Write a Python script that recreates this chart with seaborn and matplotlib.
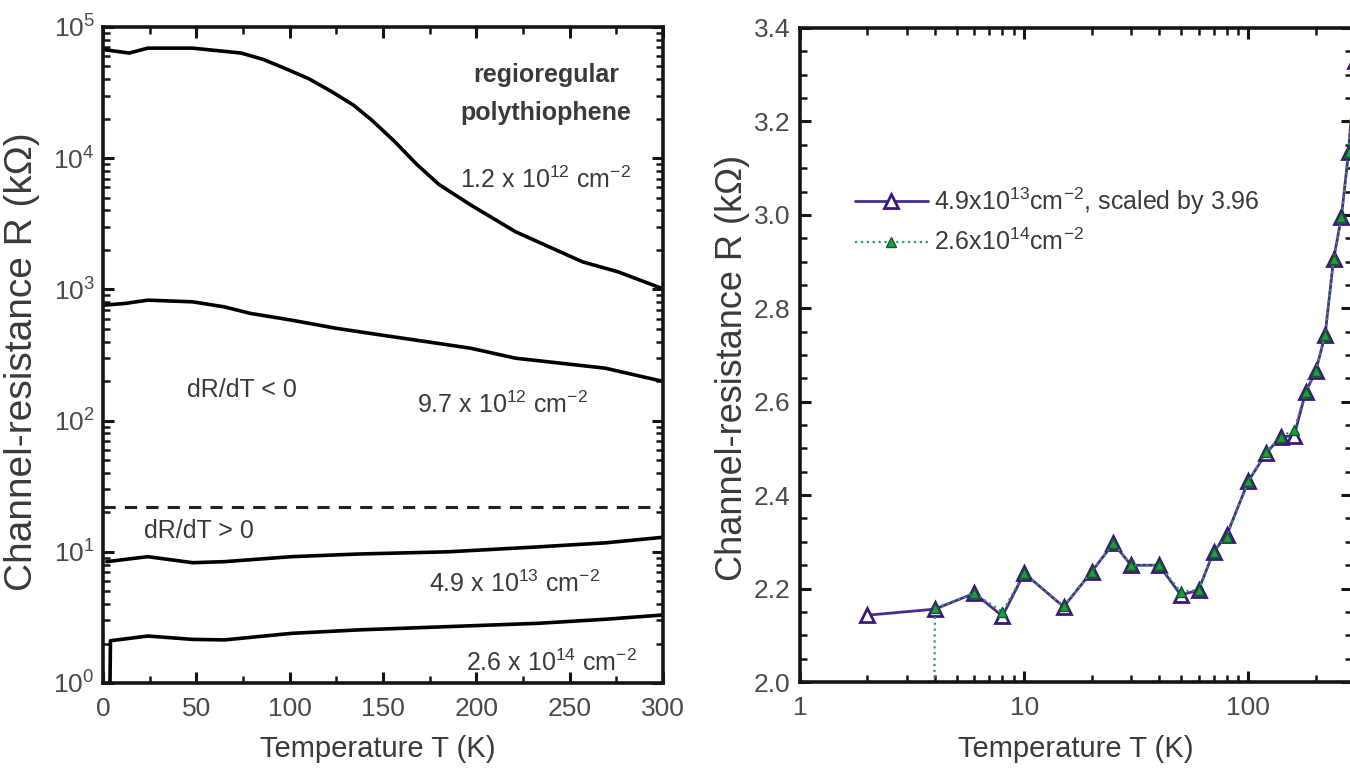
import numpy as np
import pandas as pd
import matplotlib
matplotlib.use("Agg")
import matplotlib.pyplot as plt
import matplotlib.ticker as mticker
import seaborn as sns

# ---------------- data: left panel (R in kOhm vs T in K) ----------------
T_12e12 = [1, 14, 24, 48, 74, 86, 98, 110, 122, 134, 144, 156, 168, 180, 197, 221, 257, 276, 300]
R_12e12 = [67100, 63300, 69000, 69000, 63300, 56500, 48000, 40500, 32500, 25500, 19500,
           13500, 9000, 6300, 4400, 2750, 1620, 1360, 1010]

T_97e12 = [1, 12, 24, 48, 65, 79, 101, 125, 149, 173, 197, 221, 245, 269, 300]
R_97e12 = [759, 782, 828, 804, 736, 656, 583, 505, 449, 400, 356, 299, 274, 251, 199]

T_49e13 = [2, 24, 48, 65, 101, 137, 185, 233, 269, 300]
R_49e13 = [8.41, 9.18, 8.26, 8.41, 9.18, 9.62, 10.0, 10.9, 11.7, 12.9]

T_26e14 = [3.5, 4, 24, 48, 65, 101, 137, 185, 233, 269, 300]
R_26e14 = [0.5, 2.1, 2.28, 2.15, 2.13, 2.39, 2.54, 2.69, 2.85, 3.06, 3.3]

R_boundary = 22.0          # dashed line separating dR/dT < 0 and dR/dT > 0
T_boundary = [0, 300]

# ---------------- data: right panel ----------------
T_scaled = [2, 4, 6, 8, 10, 15, 20, 25, 30, 40, 50, 60, 70, 80, 100, 120, 140, 160,
            180, 200, 220, 240, 260, 280, 300]
R_scaled = [2.143, 2.156, 2.19, 2.141, 2.233, 2.161, 2.236, 2.297, 2.25, 2.25, 2.186,
            2.197, 2.279, 2.314, 2.43, 2.49, 2.525, 2.527, 2.62, 2.666, 2.743, 2.905,
            2.995, 3.135, 3.33]
T_high = [3.9, 4, 6, 8, 10, 15, 20, 25, 30, 40, 50, 60, 70, 80, 100, 120, 140, 160,
          180, 200, 220, 240, 260, 280, 300]
R_high = [1.5, 2.158, 2.19, 2.15, 2.233, 2.162, 2.236, 2.297, 2.25, 2.25, 2.193, 2.197,
          2.279, 2.311, 2.43, 2.493, 2.525, 2.54, 2.621, 2.666, 2.743, 2.905, 2.995,
          3.135, 3.33]

label_scaled = r"4.9x10$^{13}$cm$^{-2}$, scaled by 3.96"
label_high = r"2.6x10$^{14}$cm$^{-2}$"

# ---------------- style ----------------
sns.set_theme(style="ticks")
plt.rcParams["font.family"] = ["Liberation Sans", "DejaVu Sans"]
plt.rcParams["mathtext.fontset"] = "custom"
plt.rcParams["mathtext.rm"] = "Liberation Sans"
plt.rcParams["mathtext.it"] = "Liberation Sans:italic"
plt.rcParams["mathtext.bf"] = "Liberation Sans:bold"
plt.rcParams["mathtext.default"] = "regular"

TICK_C = "#4a4a4a"
TXT_C = "#3a3a3a"
SPINE_C = "#151515"

fig = plt.figure(figsize=(13.5, 7.77), dpi=100)
W, H = 1350, 777
ax1 = fig.add_axes([103 / W, 1 - 683 / H, 560 / W, 656 / H])
ax2 = fig.add_axes([800 / W, 1 - 682 / H, 552 / W, 654 / H])


def style_axes(ax):
    for s in ax.spines.values():
        s.set_linewidth(2.6)
        s.set_color(SPINE_C)
        s.set_visible(True)
    ax.tick_params(which="both", direction="in", top=True, right=True,
                   color=SPINE_C, labelcolor=TICK_C, labelsize=19)
    ax.tick_params(which="major", length=8, width=2.2)
    ax.tick_params(which="minor", length=5, width=1.8)
    ax.set_facecolor("white")


# ---------------- left panel ----------------
for T, R in [(T_12e12, R_12e12), (T_97e12, R_97e12), (T_49e13, R_49e13), (T_26e14, R_26e14)]:
    sns.lineplot(x=T, y=R, ax=ax1, color="black", lw=2.6, estimator=None, sort=False,
                 legend=False)
sns.lineplot(x=T_boundary, y=[R_boundary] * len(T_boundary), ax=ax1, color="#222222",
             lw=2.2, estimator=None, legend=False)
ax1.lines[-1].set_dashes((4, 3))

ax1.set_yscale("log")
ax1.set_xlim(0, 300)
ax1.set_ylim(1, 1e5)
ax1.xaxis.set_major_locator(mticker.MultipleLocator(50))
ax1.xaxis.set_minor_locator(mticker.MultipleLocator(25))
ax1.yaxis.set_major_locator(mticker.LogLocator(base=10, numticks=10))
ax1.yaxis.set_minor_locator(mticker.LogLocator(base=10, subs=np.arange(2, 10), numticks=20))
ax1.yaxis.set_minor_formatter(mticker.NullFormatter())
style_axes(ax1)
ax1.tick_params(axis="x", pad=10)
ax1.tick_params(axis="y", pad=6)

ax1.set_xlabel("Temperature T (K)", fontsize=21, color=TXT_C)
ax1.set_ylabel("Channel-resistance R (k\u03a9)", fontsize=28, color=TXT_C)
ax1.xaxis.set_label_coords(0.49, -0.079)
ax1.yaxis.set_label_coords(-0.1125, 0.49)

ann = dict(transform=ax1.transAxes, ha="center", va="center", color=TXT_C, fontsize=18)
ax1.text(0.791, 0.927, "regioregular", fontweight="bold", **ann)
ax1.text(0.791, 0.869, "polythiophene", fontweight="bold", **ann)
ax1.text(0.791, 0.767, r"1.2 x 10$^{12}$ cm$^{-2}$", **ann)
ax1.text(0.248, 0.447, "dR/dT < 0", **ann)
ax1.text(0.713, 0.424, r"9.7 x 10$^{12}$ cm$^{-2}$", **ann)
ax1.text(0.172, 0.232, "dR/dT > 0", **ann)
ax1.text(0.735, 0.151, r"4.9 x 10$^{13}$ cm$^{-2}$", **ann)
ax1.text(0.80, 0.031, r"2.6 x 10$^{14}$ cm$^{-2}$", **ann)

# ---------------- right panel ----------------
sns.lineplot(x=T_scaled, y=R_scaled, ax=ax2, color="#4b2c8c", lw=2.0, estimator=None,
             sort=False, legend=False, marker="^", markersize=10.5,
             markerfacecolor="white", markeredgecolor="#3a1878", markeredgewidth=2.0)
line_scaled = ax2.lines[-1]
sns.lineplot(x=T_high, y=R_high, ax=ax2, color="#2f9a6a", lw=1.6, estimator=None,
             sort=False, legend=False, marker="^", markersize=6.5,
             markerfacecolor="#1e9e3e", markeredgecolor="#0f5a24", markeredgewidth=1.0)
line_high = ax2.lines[-1]
line_high.set_linestyle(":")

ax2.set_xscale("log")
ax2.set_xlim(1, 290)
ax2.set_ylim(2.0, 3.4)
ax2.xaxis.set_major_locator(mticker.FixedLocator([1, 10, 100]))
ax2.xaxis.set_major_formatter(mticker.FuncFormatter(lambda v, p: f"{v:g}"))
ax2.xaxis.set_minor_locator(mticker.LogLocator(base=10, subs=np.arange(2, 10), numticks=20))
ax2.xaxis.set_minor_formatter(mticker.NullFormatter())
ax2.yaxis.set_major_locator(mticker.MultipleLocator(0.2))
ax2.yaxis.set_minor_locator(mticker.MultipleLocator(0.05))
ax2.yaxis.set_major_formatter(mticker.FormatStrFormatter("%.1f"))
style_axes(ax2)
ax2.tick_params(axis="x", pad=10)
ax2.tick_params(axis="y", pad=7)

ax2.set_xlabel("Temperature T (K)", fontsize=21, color=TXT_C)
ax2.set_ylabel("Channel-resistance R (k\u03a9)", fontsize=26, color=TXT_C)
ax2.xaxis.set_label_coords(0.5, -0.081)
ax2.yaxis.set_label_coords(-0.0906, 0.48)

ax2.legend([line_scaled, line_high], [label_scaled, label_high], loc="center left",
           bbox_to_anchor=(0.10, 0.706), frameon=False, fontsize=18, handlelength=2.9,
           handletextpad=0.25, labelspacing=0.5, borderpad=0, borderaxespad=0,
           labelcolor=TXT_C)

fig.savefig("out.png", dpi=100, facecolor="white")
